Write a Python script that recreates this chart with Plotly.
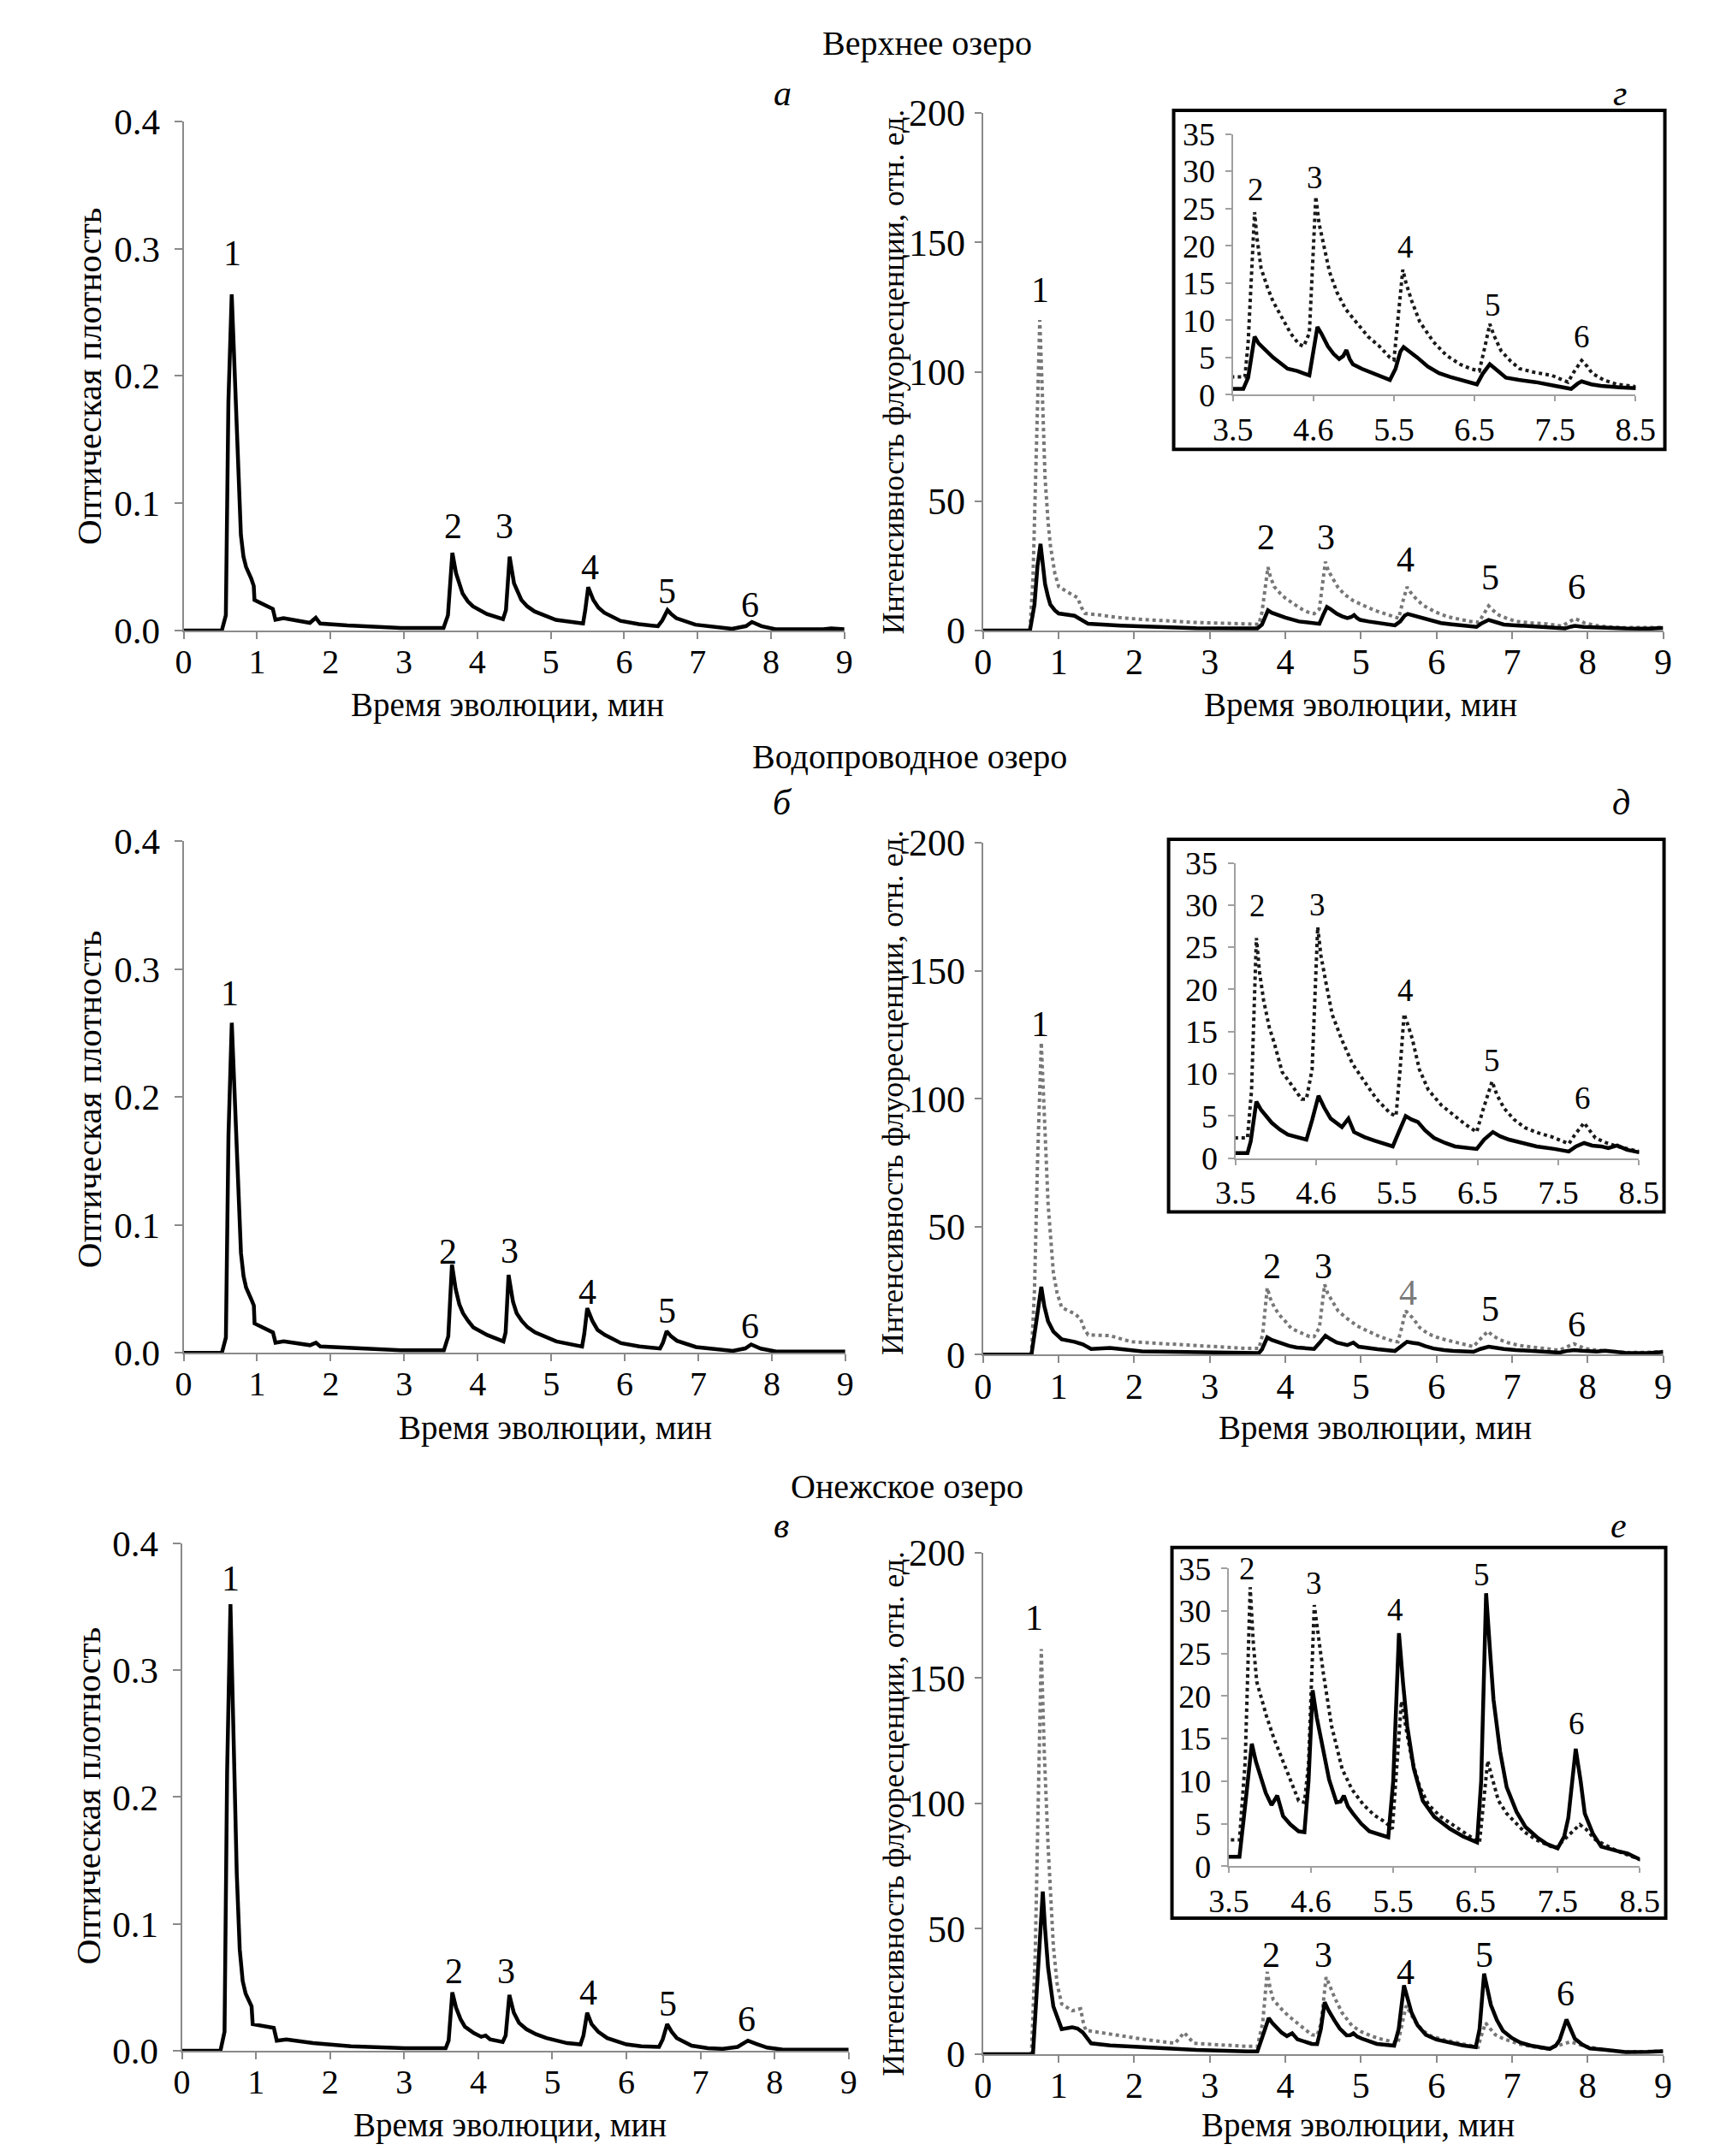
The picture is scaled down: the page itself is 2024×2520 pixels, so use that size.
import plotly.graph_objects as go

FONT = "Liberation Serif"

# --- левые панели: оптическая плотность, пары (время, мин; D) ---
a_od = [(0, 0), (0.52, 0), (0.575, 0.012), (0.61, 0.18), (0.655, 0.264), (0.706, 0.18), (0.742, 0.117),
        (0.78, 0.075), (0.815, 0.058), (0.85, 0.050), (0.92, 0.041), (0.955, 0.035), (0.965, 0.024),
        (1.07, 0.021), (1.215, 0.017), (1.25, 0.0084), (1.36, 0.0097), (1.72, 0.006), (1.80, 0.010),
        (1.86, 0.0055), (2.23, 0.004), (2.96, 0.002), (3.54, 0.002), (3.60, 0.012), (3.66, 0.061),
        (3.71, 0.045), (3.76, 0.035), (3.80, 0.029), (3.87, 0.023), (3.94, 0.019), (4.13, 0.013),
        (4.35, 0.009), (4.39, 0.016), (4.44, 0.058), (4.50, 0.037), (4.55, 0.030), (4.60, 0.024),
        (4.68, 0.019), (4.78, 0.015), (5.07, 0.0084), (5.44, 0.0055), (5.47, 0.016), (5.51, 0.034),
        (5.58, 0.024), (5.65, 0.018), (5.73, 0.014), (5.95, 0.0076), (6.20, 0.005), (6.46, 0.0034),
        (6.52, 0.008), (6.59, 0.016), (6.64, 0.013), (6.71, 0.0097), (6.97, 0.0046), (7.47, 0.0013),
        (7.66, 0.0035), (7.74, 0.0067), (7.87, 0.0034), (8.06, 0.001), (8.71, 0.001), (8.82, 0.0017),
        (9.0, 0.001)]

b_od = [(0, 0), (0.52, 0), (0.575, 0.012), (0.61, 0.17), (0.655, 0.258), (0.706, 0.18), (0.742, 0.12),
        (0.78, 0.078), (0.815, 0.060), (0.85, 0.051), (0.92, 0.042), (0.955, 0.037), (0.965, 0.023),
        (1.07, 0.020), (1.215, 0.016), (1.25, 0.008), (1.36, 0.009), (1.72, 0.006), (1.80, 0.008),
        (1.86, 0.005), (2.23, 0.004), (2.96, 0.002), (3.54, 0.002), (3.60, 0.013), (3.65, 0.069),
        (3.70, 0.050), (3.75, 0.038), (3.80, 0.031), (3.87, 0.025), (3.94, 0.020), (4.13, 0.014),
        (4.35, 0.009), (4.38, 0.016), (4.42, 0.061), (4.48, 0.040), (4.53, 0.031), (4.60, 0.025),
        (4.68, 0.020), (4.78, 0.016), (5.07, 0.009), (5.42, 0.005), (5.45, 0.015), (5.49, 0.035),
        (5.56, 0.025), (5.63, 0.018), (5.73, 0.014), (5.95, 0.0076), (6.20, 0.005), (6.48, 0.0034),
        (6.52, 0.008), (6.57, 0.017), (6.63, 0.013), (6.71, 0.0095), (6.97, 0.0046), (7.47, 0.0015),
        (7.64, 0.0035), (7.72, 0.0066), (7.85, 0.0034), (8.06, 0.001), (8.71, 0.001), (8.82, 0.0017),
        (9.0, 0.001)]

v_od = [(0, 0), (0.52, 0), (0.575, 0.015), (0.61, 0.22), (0.655, 0.352), (0.70, 0.24), (0.74, 0.14),
        (0.78, 0.08), (0.82, 0.055), (0.86, 0.045), (0.91, 0.039), (0.94, 0.035), (0.955, 0.021),
        (1.05, 0.020), (1.19, 0.019), (1.24, 0.018), (1.28, 0.008), (1.41, 0.009), (1.77, 0.006),
        (2.28, 0.0035), (3.01, 0.002), (3.56, 0.002), (3.60, 0.008), (3.65, 0.046), (3.70, 0.034),
        (3.76, 0.025), (3.82, 0.019), (3.94, 0.014), (4.04, 0.011), (4.10, 0.012), (4.16, 0.009),
        (4.33, 0.007), (4.37, 0.012), (4.42, 0.044), (4.48, 0.030), (4.55, 0.022), (4.65, 0.017),
        (4.78, 0.013), (4.92, 0.010), (5.20, 0.006), (5.38, 0.005), (5.42, 0.012), (5.47, 0.030),
        (5.53, 0.021), (5.62, 0.015), (5.74, 0.010), (6.00, 0.005), (6.20, 0.0035), (6.44, 0.003),
        (6.49, 0.009), (6.55, 0.021), (6.61, 0.015), (6.68, 0.010), (6.88, 0.004), (7.10, 0.002),
        (7.30, 0.0015), (7.50, 0.003), (7.64, 0.008), (7.75, 0.0055), (7.90, 0.0025), (8.10, 0.001),
        (8.70, 0.0008), (9.0, 0.0008)]

# --- правые панели: интенсивность флуоресценции (сплошная и пунктир) ---
g_solid = [(0, 0), (0.62, 0), (0.68, 10), (0.72, 25), (0.76, 33.5), (0.79, 25), (0.82, 18), (0.86, 13),
           (0.89, 10), (0.95, 7.8), (1.0, 6.6), (1.21, 5.7), (1.29, 4.3), (1.39, 2.6), (1.82, 1.9),
           (2.82, 0.9), (3.5, 0.8), (3.63, 0.8), (3.69, 2.3), (3.77, 7.8), (3.82, 6.9), (3.91, 5.9),
           (4.0, 5.0), (4.18, 3.5), (4.30, 3.2), (4.45, 2.6), (4.50, 6.0), (4.55, 9.1), (4.60, 8.2),
           (4.68, 6.5), (4.75, 5.5), (4.82, 4.8), (4.87, 5.2), (4.91, 6.0), (4.95, 4.8), (4.99, 4.1),
           (5.10, 3.5), (5.25, 2.9), (5.45, 2.0), (5.52, 3.5), (5.58, 5.8), (5.62, 6.4), (5.70, 5.8),
           (5.79, 5.0), (5.92, 3.8), (6.06, 2.9), (6.20, 2.4), (6.32, 2.0), (6.53, 1.4), (6.60, 2.8),
           (6.69, 4.1), (6.78, 3.3), (6.89, 2.3), (7.05, 2.0), (7.26, 1.7), (7.50, 1.2), (7.70, 0.8),
           (7.78, 1.5), (7.83, 1.8), (7.95, 1.4), (8.07, 1.2), (8.30, 1.0), (8.5, 0.8), (8.8, 0.7),
           (9.0, 1.0)]
g_dot = [(0, 0), (0.62, 0), (0.66, 20), (0.70, 70), (0.75, 120), (0.78, 95), (0.82, 59), (0.86, 42),
         (0.89, 33), (0.95, 22), (1.0, 17), (1.11, 15), (1.25, 12.7), (1.30, 9), (1.35, 6.6), (1.54, 6.0),
         (1.80, 5.0), (2.10, 4.3), (2.50, 3.6), (2.82, 3.1), (3.20, 2.8), (3.5, 2.4), (3.65, 2.4),
         (3.69, 7), (3.77, 24.5), (3.80, 21), (3.85, 17), (3.93, 14.4), (4.0, 12.5), (4.12, 10.1),
         (4.22, 8.2), (4.32, 6.8), (4.38, 6.5), (4.45, 8.3), (4.50, 20), (4.53, 26.6), (4.57, 23),
         (4.62, 20.4), (4.70, 16.5), (4.79, 13.8), (4.90, 11.5), (5.05, 9.5), (5.18, 7.8), (5.32, 6.5),
         (5.45, 5.0), (5.50, 4.7), (5.55, 10.7), (5.61, 16.8), (5.65, 15), (5.72, 12.6), (5.82, 9.8),
         (5.99, 7.1), (6.15, 5.3), (6.32, 4.1), (6.45, 3.5), (6.56, 3.2), (6.63, 6.5), (6.69, 9.5),
         (6.74, 8), (6.83, 5.9), (6.95, 4.5), (7.06, 3.5), (7.25, 3.0), (7.46, 2.6), (7.66, 1.7),
         (7.73, 3.0), (7.83, 4.6), (7.90, 3.8), (7.96, 2.9), (8.10, 2.0), (8.27, 1.4), (8.5, 1.1),
         (8.8, 1.0), (9.0, 1.2)]

d_solid = [(0, 0), (0.64, 0), (0.70, 12), (0.77, 26.5), (0.81, 19), (0.86, 13), (0.93, 9), (1.04, 6),
           (1.21, 5), (1.32, 4), (1.43, 2.2), (1.68, 2.6), (2.10, 1.3), (3.0, 0.8), (3.5, 0.6), (3.65, 0.6),
           (3.69, 2.0), (3.76, 6.7), (3.82, 5.7), (3.95, 4.2), (4.05, 3.4), (4.15, 2.8), (4.38, 2.2),
           (4.45, 4.5), (4.53, 7.4), (4.60, 6.0), (4.68, 4.7), (4.82, 3.7), (4.90, 4.7), (4.97, 3.1),
           (5.10, 2.5), (5.22, 2.1), (5.45, 1.4), (5.52, 3.0), (5.61, 5.0), (5.68, 4.6), (5.76, 4.3),
           (5.85, 3.3), (5.96, 2.4), (6.10, 1.8), (6.22, 1.4), (6.49, 1.1), (6.58, 2.2), (6.69, 3.1),
           (6.78, 2.6), (6.89, 2.2), (7.05, 1.8), (7.23, 1.4), (7.45, 1.1), (7.63, 0.8), (7.72, 1.4),
           (7.82, 1.8), (7.92, 1.5), (8.03, 1.4), (8.12, 1.2), (8.23, 1.5), (8.35, 1.0), (8.5, 0.7),
           (8.8, 0.6), (9.0, 1.0)]
d_dot = [(0, 0), (0.64, 0), (0.68, 25), (0.72, 75), (0.77, 122), (0.81, 90), (0.86, 59), (0.93, 32),
         (0.98, 24), (1.04, 18.4), (1.21, 16), (1.29, 14), (1.34, 10), (1.39, 7.7), (1.68, 7.4), (1.96, 5),
         (2.40, 4.2), (2.82, 3.5), (3.20, 2.9), (3.5, 2.4), (3.65, 2.4), (3.70, 8), (3.76, 26.1),
         (3.80, 22), (3.85, 18.7), (3.92, 15.5), (3.98, 13.7), (4.08, 10.2), (4.18, 8.9), (4.25, 8.0),
         (4.32, 7.0), (4.38, 7.0), (4.45, 10.5), (4.52, 27.4), (4.56, 24), (4.62, 20.9), (4.70, 17),
         (4.82, 14), (4.95, 11.2), (5.09, 9.2), (5.25, 7.0), (5.42, 5.3), (5.49, 5.0), (5.54, 10.5),
         (5.59, 17.1), (5.63, 16), (5.69, 14.2), (5.78, 10.5), (5.89, 8.1), (6.05, 6.3), (6.22, 5.0),
         (6.35, 4.0), (6.49, 3.1), (6.56, 5.5), (6.68, 9.1), (6.74, 7.5), (6.83, 5.9), (6.95, 4.6),
         (7.09, 3.6), (7.25, 3.0), (7.43, 2.5), (7.63, 1.7), (7.70, 2.7), (7.82, 4.2), (7.88, 3.4),
         (7.96, 2.4), (8.10, 1.8), (8.23, 1.4), (8.5, 0.8), (8.8, 0.9), (9.0, 1.2)]

e_solid = [(0, 0), (0.66, 0), (0.72, 30), (0.79, 64.8), (0.82, 50), (0.86, 34.5), (0.93, 19), (1.04, 10),
           (1.18, 10.7), (1.25, 10.2), (1.32, 8.6), (1.43, 4.3), (1.68, 3.5), (2.25, 2.6), (2.82, 1.7),
           (3.5, 1.1), (3.63, 1.1), (3.70, 7.2), (3.78, 14.4), (3.83, 12.3), (3.89, 10.3), (3.95, 8.6),
           (4.02, 7.2), (4.09, 8.3), (4.16, 5.9), (4.25, 4.9), (4.35, 4.1), (4.42, 4.0), (4.47, 10),
           (4.52, 20.7), (4.57, 17.5), (4.65, 13.4), (4.72, 10.2), (4.81, 7.5), (4.86, 7.6), (4.90, 8.3),
           (4.95, 7.0), (5.01, 6.2), (5.11, 5.0), (5.21, 4.1), (5.44, 3.4), (5.50, 10), (5.57, 27.4),
           (5.62, 21.5), (5.67, 16.5), (5.75, 11.5), (5.86, 7.7), (6.0, 5.8), (6.19, 4.4), (6.35, 3.5),
           (6.52, 2.8), (6.57, 10), (6.63, 32.1), (6.68, 25), (6.72, 19.6), (6.80, 13.5), (6.88, 9.3),
           (7.0, 6.4), (7.11, 4.6), (7.25, 3.4), (7.37, 2.6), (7.50, 2.1), (7.58, 3.5), (7.63, 5.7),
           (7.72, 13.8), (7.78, 10), (7.83, 6.2), (7.93, 3.8), (8.03, 2.3), (8.22, 1.8), (8.35, 1.5),
           (8.5, 0.8), (8.8, 0.9), (9.0, 1.2)]
e_dot = [(0, 0), (0.64, 0), (0.69, 40), (0.73, 110), (0.77, 161.5), (0.81, 120), (0.86, 83), (0.93, 43),
         (0.98, 28), (1.04, 20), (1.18, 17.3), (1.29, 18.1), (1.33, 12), (1.36, 9.5), (1.61, 8.3),
         (2.11, 6), (2.54, 4.3), (2.66, 8.6), (2.79, 4.3), (3.18, 3.5), (3.5, 3.1), (3.63, 3.1),
         (3.70, 12.4), (3.76, 32.8), (3.80, 26), (3.84, 21.7), (3.90, 19.5), (3.96, 17.6), (4.05, 15),
         (4.16, 12.4), (4.26, 9.8), (4.35, 7.7), (4.42, 7.5), (4.47, 12), (4.54, 30.7), (4.59, 27),
         (4.65, 22.7), (4.75, 16.5), (4.88, 11.4), (5.0, 9.0), (5.14, 7.2), (5.27, 6.0), (5.40, 5.2),
         (5.49, 4.4), (5.53, 10), (5.60, 19.4), (5.66, 16), (5.73, 12.4), (5.82, 9.4), (5.93, 7.2),
         (6.08, 5.8), (6.26, 4.6), (6.45, 3.4), (6.55, 2.8), (6.59, 7), (6.65, 12.4), (6.70, 10.5),
         (6.78, 7.7), (6.88, 6.2), (6.98, 5.2), (7.10, 4.0), (7.24, 3.1), (7.47, 2.1), (7.63, 3.6),
         (7.77, 4.9), (7.85, 4.3), (7.96, 3.1), (8.10, 2.4), (8.22, 1.8), (8.5, 0.8), (8.8, 0.9), (9.0, 1.2)]

# номера пиков: (x, y)
a_labels = [(0.66, 0.296), (3.67, 0.082), (4.37, 0.082), (5.53, 0.050), (6.58, 0.031), (7.72, 0.020)]
b_labels = [(0.63, 0.281), (3.60, 0.079), (4.43, 0.080), (5.49, 0.048), (6.57, 0.033), (7.70, 0.021)]
v_labels = [(0.66, 0.372), (3.67, 0.063), (4.38, 0.063), (5.49, 0.046), (6.56, 0.037), (7.62, 0.025)]
g_labels = [(0.75, 131.5), (3.74, 36), (4.54, 36), (5.59, 27.4), (6.71, 20.5), (7.86, 17)]
d_labels = [(0.75, 129), (3.82, 34.4), (4.50, 34.4), (5.62, 24.3), (6.71, 17.8), (7.86, 11.8)]
e_labels = [(0.68, 174), (3.81, 39.7), (4.50, 39.7), (5.59, 32.8), (6.63, 39.7), (7.71, 24.2)]
g_in_labels = [(3.78, 27.6), (4.52, 29.1), (5.64, 19.8), (6.73, 12.1), (7.83, 7.8)]
d_in_labels = [(3.77, 29.9), (4.52, 30.0), (5.61, 19.9), (6.68, 11.6), (7.80, 7.1)]
e_in_labels = [(3.72, 35.0), (4.54, 33.3), (5.53, 30.2), (6.58, 34.3), (7.73, 16.8)]

x_ticks = list(range(10))
od_ticks = [0.0, 0.1, 0.2, 0.3, 0.4]
fl_ticks = [0, 50, 100, 150, 200]
inset_x_ticks = [3.5, 4.5, 5.5, 6.5, 7.5, 8.5]
inset_x_text = ["3.5", "4.6", "5.5", "6.5", "7.5", "8.5"]
inset_y_ticks = [0, 5, 10, 15, 20, 25, 30, 35]

lakes = ["Верхнее озеро", "Водопроводное озеро", "Онежское озеро"]
x_title = "Время эволюции, мин"
od_title = "Оптическая плотность"
fl_title = "Интенсивность флуоресценции, отн. ед."

AXIS_GREY = "#8a8a8a"


def xs(points):
    return [p[0] for p in points]


def ys(points):
    return [p[1] for p in points]


def axis(domain, rng, ticks, size, fmt=None, standoff=0, ticklen=8):
    ax = dict(domain=domain, range=rng, tickvals=ticks, showline=True, linecolor=AXIS_GREY, linewidth=2,
              ticks="outside", ticklen=ticklen, tickwidth=2, tickcolor=AXIS_GREY, showgrid=False,
              zeroline=False, tickfont=dict(family=FONT, size=size, color="black"), fixedrange=True,
              ticklabelstandoff=standoff)
    if fmt:
        ax["tickformat"] = fmt
    return ax


fig = go.Figure()

# (левая ось, правая ось, ось вставки, данные)
rows = [
    ("", "2", "3", a_od, g_solid, g_dot),
    ("4", "5", "6", b_od, d_solid, d_dot),
    ("7", "8", "9", v_od, e_solid, e_dot),
]

for lid, rid, iid, od, solid, dot in rows:
    fig.add_trace(go.Scatter(x=xs(od), y=ys(od), mode="lines", line=dict(color="black", width=4.5),
                             xaxis="x" + lid, yaxis="y" + lid, showlegend=False))
    fig.add_trace(go.Scatter(x=xs(dot), y=ys(dot), mode="lines",
                             line=dict(color="#777777", width=4, dash="dot"),
                             xaxis="x" + rid, yaxis="y" + rid, showlegend=False))
    fig.add_trace(go.Scatter(x=xs(solid), y=ys(solid), mode="lines", line=dict(color="black", width=4.5),
                             xaxis="x" + rid, yaxis="y" + rid, showlegend=False))
    fig.add_trace(go.Scatter(x=xs(dot), y=ys(dot), mode="lines",
                             line=dict(color="#1a1a1a", width=4, dash="dot"),
                             xaxis="x" + iid, yaxis="y" + iid, showlegend=False))
    fig.add_trace(go.Scatter(x=xs(solid), y=ys(solid), mode="lines", line=dict(color="black", width=4.5),
                             xaxis="x" + iid, yaxis="y" + iid, showlegend=False))

# домены: строки сверху вниз
left_x = [[0.0924, 0.4832], [0.0924, 0.4837], [0.0914, 0.4857]]
left_y = [[0.7147, 0.9556], [0.3730, 0.6151], [0.0429, 0.2829]]
right_x = [[0.5652, 0.9674], [0.5652, 0.9674], [0.5652, 0.9674]]
right_y = [[0.7147, 0.9595], [0.3722, 0.6143], [0.0413, 0.2786]]
inset_x = [[0.7129, 0.9511], [0.7144, 0.9531], [0.7105, 0.9536]]
inset_y = [[0.8262, 0.9496], [0.4651, 0.6048], [0.1302, 0.2710]]
box_x = [[0.6779, 0.9684], [0.6749, 0.9679], [0.6769, 0.9689]]
box_y = [[0.8004, 0.9607], [0.4397, 0.6159], [0.1056, 0.2810]]

layout = dict(width=2024, height=2520, margin=dict(l=0, r=0, t=0, b=0), paper_bgcolor="white",
              plot_bgcolor="white", showlegend=False, font=dict(family=FONT, color="black"))
shapes = []
for i, (lid, rid, iid, *_rest) in enumerate(rows):
    layout["xaxis" + lid] = axis(left_x[i], [0, 9], x_ticks, 40, standoff=-8)
    layout["xaxis" + lid]["anchor"] = "y" + lid
    layout["yaxis" + lid] = axis(left_y[i], [0, 0.4], od_ticks, 43, ".1f", standoff=8, ticklen=9)
    layout["yaxis" + lid]["anchor"] = "x" + lid
    layout["xaxis" + rid] = axis(right_x[i], [0, 9], x_ticks, 42, standoff=-9)
    layout["xaxis" + rid]["anchor"] = "y" + rid
    layout["yaxis" + rid] = axis(right_y[i], [0, 200], fl_ticks, 44, standoff=2)
    layout["yaxis" + rid]["anchor"] = "x" + rid
    ix = axis(inset_x[i], [3.5, 8.5], inset_x_ticks, 38, ticklen=6)
    ix.update(ticktext=inset_x_text, anchor="y" + iid, linecolor="#a0a0a0", tickcolor="#a0a0a0")
    iy = axis(inset_y[i], [0, 35], inset_y_ticks, 38, standoff=4, ticklen=7)
    iy.update(anchor="x" + iid, linecolor="#a0a0a0", tickcolor="#a0a0a0")
    layout["xaxis" + iid] = ix
    layout["yaxis" + iid] = iy
    shapes.append(dict(type="rect", xref="paper", yref="paper", x0=box_x[i][0], x1=box_x[i][1],
                       y0=box_y[i][0], y1=box_y[i][1], line=dict(color="black", width=4), layer="below"))
layout["shapes"] = shapes

ann = []


def text(x, y, s, size, xref="paper", yref="paper", angle=0, color="black"):
    ann.append(dict(x=x, y=y, xref=xref, yref=yref, text=s, showarrow=False, textangle=angle,
                    xanchor="center", yanchor="middle", font=dict(family=FONT, size=size, color=color)))


label_sets = [(a_labels, g_labels, g_in_labels), (b_labels, d_labels, d_in_labels),
              (v_labels, e_labels, e_in_labels)]
for i, (lid, rid, iid, *_rest) in enumerate(rows):
    left_l, right_l, in_l = label_sets[i]
    for k, (x, y) in enumerate(left_l):
        text(x, y, str(k + 1), 42, "x" + lid, "y" + lid)
    for k, (x, y) in enumerate(right_l):
        col = "#7a7a7a" if (i == 1 and k == 3) else "black"
        text(x, y, str(k + 1), 42, "x" + rid, "y" + rid, color=col)
    for k, (x, y) in enumerate(in_l):
        text(x, y, str(k + 2), 37, "x" + iid, "y" + iid)

# заголовки озёр и буквы панелей
text(0.532, 0.9925, lakes[0], 40)
text(0.522, 0.6548, lakes[1], 40)
text(0.520, 0.3099, lakes[2], 40)
panel_letters = [("а", 0.4466, 0.969), ("г", 0.9417, 0.969), ("б", 0.4466, 0.6333),
                 ("д", 0.9427, 0.6333), ("в", 0.4457, 0.2913), ("е", 0.9412, 0.2913)]
for s, x, y in panel_letters:
    text(x, y, "<i>" + s + "</i>", 42)

# подписи осей
for x, y in [(0.284, 0.6794), (0.7886, 0.6794), (0.312, 0.3377), (0.797, 0.3377), (0.2855, 0.0077),
             (0.787, 0.0077)]:
    text(x, y, x_title, 39)
for y in [0.835, 0.493, 0.1635]:
    text(0.0361, y, od_title, 41, angle=-90)
for y in [0.837, 0.496, 0.155]:
    text(0.5120, y, fl_title, 36, angle=-90)

layout["annotations"] = ann
fig.update_layout(**layout)
fig.write_html("out.html")
